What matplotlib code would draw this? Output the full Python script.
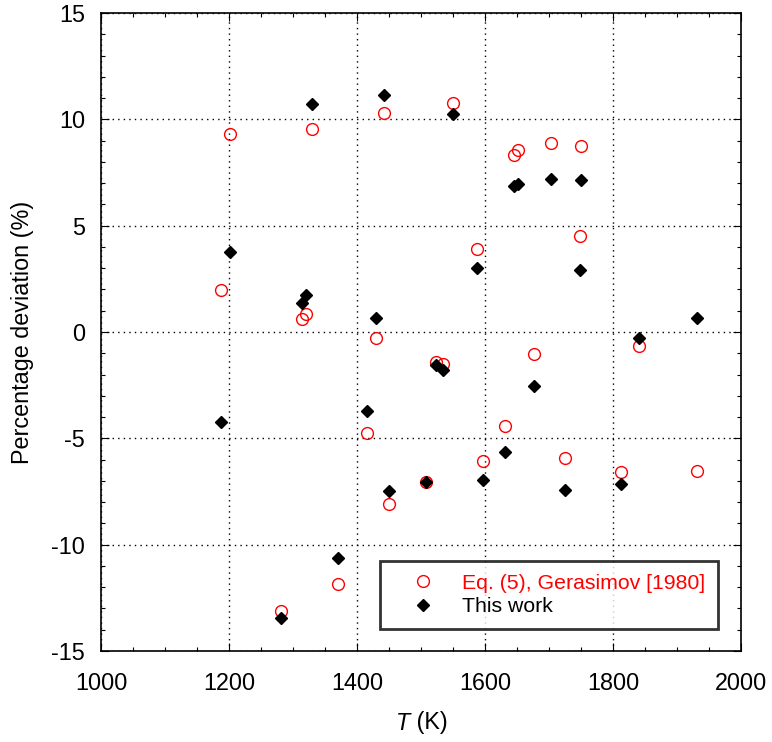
import matplotlib
matplotlib.use("Agg")
import matplotlib.pyplot as plt
from matplotlib.ticker import MultipleLocator

plt.rcParams['font.family'] = ['Liberation Sans', 'DejaVu Sans']
plt.rcParams['axes.unicode_minus'] = False

# Eq. (5), Gerasimov [1980]
T_ger = [1188, 1202, 1314, 1320, 1330, 1429, 1442, 1550, 1646, 1651, 1703, 1750,
         1587, 1748, 1840, 1523, 1535, 1676, 1632, 1597, 1508, 1725, 1812, 1932,
         1416, 1450, 1371, 1281]
dev_ger = [1.96, 9.33, 0.61, 0.86, 9.53, -0.28, 10.3, 10.78, 8.32, 8.54, 8.9, 8.76,
           3.92, 4.5, -0.66, -1.39, -1.49, -1.03, -4.43, -6.06, -7.05, -5.92, -6.6, -6.53,
           -4.75, -8.1, -11.85, -13.12]

# This work
T_this = [1188, 1202, 1314, 1320, 1330, 1429, 1442, 1550, 1646, 1651, 1703, 1750,
          1587, 1748, 1840, 1932, 1523, 1535, 1676, 1632, 1597, 1508, 1725, 1812,
          1416, 1450, 1371, 1281]
dev_this = [-4.21, 3.78, 1.38, 1.72, 10.74, 0.66, 11.14, 10.25, 6.85, 6.98, 7.18, 7.15,
            3.03, 2.92, -0.3, 0.68, -1.57, -1.8, -2.52, -5.66, -6.97, -7.05, -7.43, -7.14,
            -3.73, -7.49, -10.62, -13.43]

FS = 16.8
FS_LEG = 15.3

fig = plt.figure(figsize=(7.72, 7.42), dpi=100)
ax = fig.add_axes([101/772, 1 - 651/742, 640/772, 638/742])

ax.plot(T_ger, dev_ger, linestyle='none', marker='o', markersize=8.5,
        markerfacecolor='none', markeredgecolor='red', markeredgewidth=1.0,
        label='Eq. (5), Gerasimov [1980]', zorder=3)
ax.plot(T_this, dev_this, linestyle='none', marker='D', markersize=6.5,
        color='black', label='This work', zorder=4)

ax.set_xlim(1000, 2000)
ax.set_ylim(-15, 15)
ax.xaxis.set_major_locator(MultipleLocator(200))
ax.xaxis.set_minor_locator(MultipleLocator(50))
ax.yaxis.set_major_locator(MultipleLocator(5))
ax.yaxis.set_minor_locator(MultipleLocator(1))
ax.tick_params(which='both', direction='in', top=True, right=True, labelsize=FS)
ax.tick_params(which='major', length=6, width=0.8)
ax.tick_params(which='minor', length=3, width=0.8)
ax.tick_params(axis='x', pad=15)
ax.tick_params(axis='y', pad=11.5)
ax.grid(True, which='major', linestyle=(0, (1, 3)), color='black', linewidth=1.0)
for s in ax.spines.values():
    s.set_linewidth(1.2)

fig.text(410/772, 1 - 723/742, 'T', fontsize=FS, style='italic', ha='right', va='center')
fig.text(410/772, 1 - 723/742, ' (K)', fontsize=FS, ha='left', va='center')
ax.set_ylabel('Percentage deviation (%)', fontsize=FS)
ax.yaxis.set_label_coords((34 - 101)/640, 0.5)

leg = ax.legend(loc='lower right', bbox_to_anchor=((718 - 101)/640, (651 - 629)/638),
                fontsize=FS_LEG, frameon=True, fancybox=False,
                handletextpad=0.41, borderpad=0.6, labelspacing=0.22,
                handlelength=2.85, borderaxespad=0)
leg.get_frame().set_edgecolor('black')
leg.get_frame().set_linewidth(2.0)
leg.get_texts()[0].set_color('red')

fig.savefig('out.png', dpi=100)
